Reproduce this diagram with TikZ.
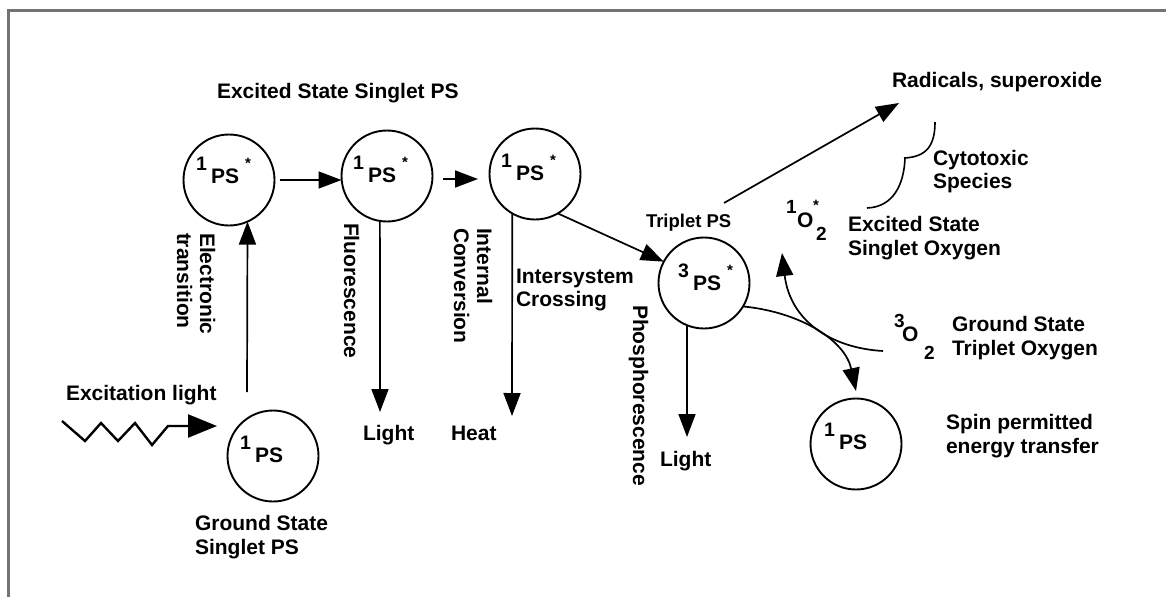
\documentclass[tikz,border=0pt]{standalone}
\usepackage{fontspec}
\setmainfont{Liberation Sans}
\usetikzlibrary{arrows.meta}
\newcommand{\pslab}[2]{\makebox[0pt][r]{\smash{\raisebox{13pt}{\fontsize{19.5}{19.5}\selectfont #1}}\hspace{4pt}}PS\makebox[0pt][l]{\hspace{6pt}\smash{\raisebox{15pt}{\fontsize{15}{15}\selectfont #2}}}}
\begin{document}
\begin{tikzpicture}[x=1pt,y=-1pt,
  txt/.style={inner sep=0pt, outer sep=0pt, anchor=base west, font=\fontsize{21}{25}\selectfont\bfseries},
  smalltxt/.style={txt, font=\fontsize{19}{19}\selectfont\bfseries},
  startxt/.style={txt, font=\fontsize{15}{15}\selectfont\bfseries},
  rtxt/.style={txt, rotate=-90},
  pscircle/.style={circle, draw, line width=1.9pt, minimum size=91pt, inner sep=0pt, outer sep=0pt},
  arr/.style={line width=1.7pt, -{Triangle[length=23pt,width=17pt]}},
  bigarr/.style={line width=2.4pt, line join=miter, -{Triangle[length=29pt,width=23pt]}},
  ln/.style={line width=1.6pt}]
\useasboundingbox (0,0) rectangle (1166,597);
% partial frame
\draw[black!55, line width=2.2pt] (8.5,597) -- (8.5,10.5) -- (1166,10.5);

% circles
\node[pscircle] (exA) at (229,180) {};
\node[pscircle] (exB) at (387,176) {};
\node[pscircle] (exC) at (535,174) {};
\node[pscircle] (gr) at (273,456) {};
\node[pscircle] (trip) at (704,283) {};
\node[pscircle] (gr2) at (856,444) {};

% circle labels
\node[txt] (labA) at (211,183) {\pslab{1}{*}};
\node[txt] (labB) at (368,182) {\pslab{1}{*}};
\node[txt] (labC) at (516,180) {\pslab{1}{*}};
\node[txt] (labG) at (255,462) {\pslab{1}{}};
\node[txt] (labT) at (693,290) {\pslab{3}{*}};
\node[txt] (labG2) at (839,449) {\pslab{1}{}};

% texts
\node[txt] (texc) at (217,98) {Excited State Singlet PS};
\node[txt] (trad) at (892,87) {Radicals, superoxide};
\node[txt] (tcya) at (933,165) {Cytotoxic};
\node[txt] (tcyb) at (933,188) {Species};
\node[txt, font=\fontsize{18.5}{22}\selectfont\bfseries] (ttps) at (646,227) {Triplet PS};
\node[txt] (tesoa) at (848,231) {Excited State};
\node[txt] (tesob) at (848,255) {Singlet Oxygen};
\node[txt] (tgtoa) at (952,331) {Ground State};
\node[txt] (tgtob) at (952,355) {Triplet Oxygen};
\node[txt] (tspa) at (946,429) {Spin permitted};
\node[txt] (tspb) at (946,453) {energy transfer};
\node[txt] (tltb) at (660,466) {Light};
\node[txt] (tlta) at (363,440) {Light};
\node[txt] (theat) at (451,440) {Heat};
\node[txt] (tisa) at (516,283) {Intersystem};
\node[txt] (tisb) at (516,306) {Crossing};
\node[txt] (tex) at (66,400) {Excitation light};
\node[txt] (tgsa) at (195,530) {Ground State};
\node[txt] (tgsb) at (195,554) {Singlet PS};

% rotated texts
\node[rtxt] (tela) at (200,233) {Electronic};
\node[rtxt] (telb) at (177,233) {transition};
\node[rtxt] (tfl) at (344,223) {Fluorescence};
\node[rtxt] (tica) at (477,228) {Internal};
\node[rtxt] (ticb) at (454,228) {Conversion};
\node[rtxt] (tph) at (633,305) {Phosphorescence};

% oxygen symbols
\node[smalltxt] (oa1) at (786,213) {1};
\node[txt] (oa2) at (797,227) {O};
\node[startxt] (oa3) at (813,210) {*};
\node[smalltxt] (oa4) at (816,240) {2};
\node[smalltxt] (ob1) at (894,327) {3};
\node[txt] (ob2) at (902,341) {O};
\node[smalltxt] (ob3) at (924,359) {2};

% coordinates for free ends
\coordinate (gstart) at (247,392);
\coordinate (bcs) at (443,179);
\coordinate (bct) at (478,179);
\coordinate (lighta) at (380,412);
\coordinate (heatt) at (512,416);
\coordinate (lightb) at (687,437);
\coordinate (rads) at (724,203);
\coordinate (radt) at (899,103);
\coordinate (gr2t) at (856,391);
\coordinate (o3s) at (883,351);
\coordinate (o1t) at (782,253);
\coordinate (zs) at (62,421);
\coordinate (zt) at (217,426);

% connectors
\draw[arr] (gstart) -- (exA.-66.7);
\draw[arr] ([xshift=5pt]exA.east) -- (exA.east -| exB.west);
\draw[arr] (bcs) -- (bct);
\draw[arr] (exB.-99) -- (lighta);
\draw[arr] (exC.-120.5) -- (heatt);
\draw[arr] (exC.-60) -- (trip.152);
\draw[arr] (trip.-112) -- (lightb);
\draw[arr] (rads) -- (radt);
\draw[arr] (trip.-31) .. controls (800,312) and (845,340) .. (gr2t);
\draw[arr] (o3s) .. controls (830,348) and (790,320) .. (o1t);

% brace
\draw[ln] (935,122) .. controls (935,145) and (927,157) .. (904,158);
\draw[ln] (905,158) .. controls (904,185) and (893,207) .. (867,208);

% excitation light zigzag
\draw[bigarr] (zs) -- ++(23,20) -- ++(16,-18) -- ++(17,18) -- ++(17,-18) -- ++(17,22) -- ++(16,-19) -- (zt);
\end{tikzpicture}
\end{document}
